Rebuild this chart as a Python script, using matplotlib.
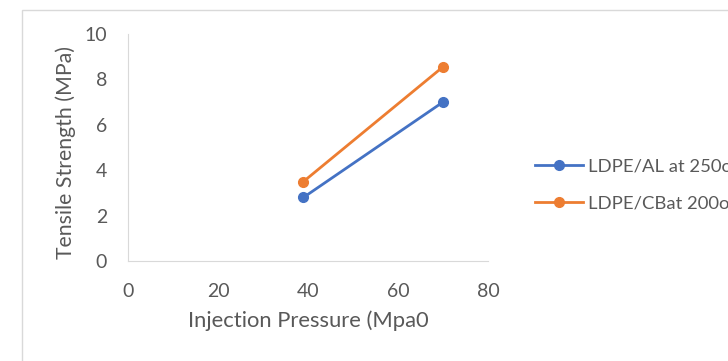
import matplotlib.pyplot as plt
from matplotlib.patches import Rectangle

pressure = [39, 70]
al_250 = [2.8, 7.0]
cb_200 = [3.5, 8.55]
labels = ["LDPE/AL at 250oC", "LDPE/CBat 200oC"]

text_color = "#595959"
plt.rcParams["font.family"] = ["Lato", "DejaVu Sans"]

fig = plt.figure(figsize=(7.28, 3.61), dpi=100)
ax = fig.add_axes([0.1758, 0.277, 0.4945, 0.629])

# outer chart border (Excel style)
fig.patches.append(Rectangle((22 / 728, -0.1), 1.1, 1.1 - 10 / 361,
                             transform=fig.transFigure, fill=False,
                             edgecolor="#d9d9d9", linewidth=1))

ax.plot(pressure, al_250, color="#4472c4", marker="o", markersize=7, linewidth=2, label=labels[0])
ax.plot(pressure, cb_200, color="#ed7d31", marker="o", markersize=7, linewidth=2, label=labels[1])

ax.set_xlim(0, 80)
ax.set_ylim(0, 10)
ax.set_xticks([0, 20, 40, 60, 80])
ax.set_yticks([0, 2, 4, 6, 8, 10])
ax.tick_params(length=0, labelsize=14, colors=text_color)
ax.tick_params(axis="x", pad=16)
ax.tick_params(axis="y", pad=15)

for s in ["top", "right"]:
    ax.spines[s].set_visible(False)
for s in ["left", "bottom"]:
    ax.spines[s].set_color("#d9d9d9")

ax.set_xlabel("Injection Pressure (Mpa0", fontsize=15.8, color=text_color, labelpad=7)
ax.set_ylabel("Tensile Strength (MPa)", fontsize=15.3, color=text_color)
ax.yaxis.set_label_coords(-0.145, 0.48)

ax.legend(loc="center left", bbox_to_anchor=(535 / 728, 1 - 185 / 361),
          bbox_transform=fig.transFigure, frameon=False, borderpad=0, borderaxespad=0,
          fontsize=13.3, labelcolor=text_color, handlelength=2.6, handletextpad=0.25,
          labelspacing=1.1)

fig.savefig("out.png", dpi=100)
